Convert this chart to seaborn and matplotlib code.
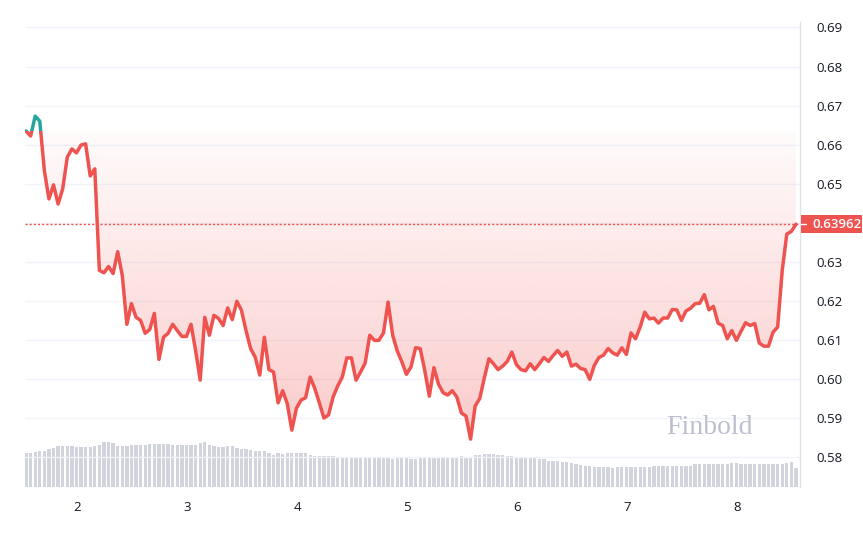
import numpy as np
import pandas as pd
import matplotlib
matplotlib.use("Agg")
import matplotlib.pyplot as plt
import matplotlib.transforms as mtransforms
from matplotlib.path import Path
from matplotlib.patches import Rectangle
from matplotlib.lines import Line2D
from matplotlib.colors import to_rgb
import seaborn as sns

# hourly closes
price = [
    0.6635, 0.6622, 0.6673, 0.6660, 0.6533, 0.6461, 0.6497, 0.6448, 0.6487, 0.6568,
    0.6589, 0.6579, 0.6599, 0.6602, 0.6520, 0.6538, 0.6278, 0.6272, 0.6288, 0.6270,
    0.6326, 0.6265, 0.6140, 0.6193, 0.6158, 0.6150, 0.6117, 0.6127, 0.6168, 0.6050,
    0.6107, 0.6117, 0.6140, 0.6124, 0.6109, 0.6109, 0.6140, 0.6073, 0.5997, 0.6158,
    0.6112, 0.6163, 0.6155, 0.6137, 0.6182, 0.6152, 0.6199, 0.6176, 0.6124, 0.6078,
    0.6056, 0.6010, 0.6107, 0.6024, 0.6018, 0.5939, 0.5970, 0.5937, 0.5869, 0.5925,
    0.5946, 0.5952, 0.6005, 0.5976, 0.5939, 0.5900, 0.5908, 0.5954, 0.5982, 0.6005,
    0.6054, 0.6054, 0.5997, 0.6018, 0.6041, 0.6112, 0.6099, 0.6099, 0.6118, 0.6197,
    0.6112, 0.6072, 0.6044, 0.6012, 0.6031, 0.6080, 0.6078, 0.6022, 0.5956, 0.6029,
    0.5987, 0.5965, 0.5959, 0.5970, 0.5954, 0.5913, 0.5905, 0.5846, 0.5931, 0.5950,
    0.6003, 0.6052, 0.6039, 0.6024, 0.6033, 0.6045, 0.6069, 0.6037, 0.6024, 0.6021,
    0.6039, 0.6024, 0.6039, 0.6055, 0.6045, 0.6060, 0.6073, 0.6058, 0.6069, 0.6033,
    0.6038, 0.6027, 0.6024, 0.5999, 0.6035, 0.6055, 0.6061, 0.6078, 0.6067, 0.6061,
    0.6080, 0.6063, 0.6118, 0.6103, 0.6133, 0.6171, 0.6154, 0.6156, 0.6143, 0.6156,
    0.6156, 0.6178, 0.6177, 0.6150, 0.6174, 0.6181, 0.6193, 0.6194, 0.6216, 0.6177,
    0.6186, 0.6143, 0.6137, 0.6103, 0.6124, 0.6099, 0.6122, 0.6144, 0.6137, 0.6142,
    0.6092, 0.6084, 0.6084, 0.6120, 0.6133, 0.6278, 0.6371, 0.6378, 0.63962,
]

# hourly volume (relative units)
volume = [
    34.0, 34.0, 35.0, 35.7, 35.7, 38.3, 38.7, 40.7, 40.7, 40.7,
    40.7, 39.7, 39.7, 39.7, 39.7, 40.7, 42.3, 44.7, 44.7, 43.7,
    40.7, 40.7, 40.7, 41.7, 42.3, 42.3, 42.3, 43.3, 42.7, 42.7,
    42.7, 43.3, 41.7, 42.3, 41.7, 42.3, 42.3, 42.3, 44.0, 45.3,
    41.7, 40.7, 39.7, 39.7, 40.7, 40.7, 39.3, 38.3, 38.3, 36.7,
    36.3, 35.7, 35.7, 34.3, 32.3, 33.7, 32.7, 33.7, 33.7, 33.7,
    33.7, 33.7, 31.7, 30.7, 30.7, 30.7, 30.7, 30.7, 29.4, 29.4,
    29.4, 29.4, 29.4, 29.4, 29.4, 29.4, 29.4, 29.4, 29.4, 28.7,
    27.7, 28.7, 28.7, 28.7, 27.7, 27.7, 28.7, 28.7, 29.4, 29.4,
    29.4, 29.0, 29.0, 29.4, 29.4, 30.7, 30.0, 29.4, 31.7, 32.3,
    33.4, 32.7, 32.7, 32.0, 32.0, 31.4, 30.7, 30.0, 30.0, 30.0,
    30.0, 29.4, 28.0, 28.0, 26.0, 26.0, 26.0, 25.4, 24.7, 24.0,
    23.4, 21.7, 20.7, 20.7, 20.4, 19.7, 19.7, 19.7, 19.4, 19.7,
    19.7, 19.7, 20.0, 20.0, 20.0, 20.4, 20.4, 20.7, 20.7, 20.7,
    20.7, 21.4, 21.4, 21.4, 21.4, 21.4, 22.7, 22.7, 22.7, 23.4,
    23.4, 23.4, 23.4, 23.4, 24.0, 24.4, 22.7, 22.7, 22.7, 22.7,
    22.7, 22.7, 22.7, 22.7, 22.7, 22.7, 24.3, 24.7, 19.4,
]

start_day = 1.5364          # day-of-month of the first sample
day_ticks = [2, 3, 4, 5, 6, 7, 8]
price_ticks = [0.58, 0.59, 0.60, 0.61, 0.62, 0.63, 0.64, 0.65, 0.66, 0.67, 0.68, 0.69]
last_price = 0.63962
watermark = "Finbold"

RED = "#ef5350"
GREEN = "#26a69a"
VOL = "#d1d4dc"
GRID = "#f0f3fa"
TEXT = "#131722"

df = pd.DataFrame({"day": start_day + np.arange(len(price)) / 24,
                   "price": price, "volume": volume})
baseline = price[0]

sns.set_style("white")
plt.rcParams["font.family"] = ["Open Sans", "DejaVu Sans"]

W, H = 863, 539
fig = plt.figure(figsize=(W / 100, H / 100), dpi=100)
rect = [25 / W, 52 / H, 775 / W, 465 / H]
xlim = (1.527, 8.573)
ylim = (0.57235, 0.69140)

# volume pane underneath
ax_vol = fig.add_axes(rect)
ax_vol.bar(df["day"], df["volume"], width=0.72 / 24, color=VOL, linewidth=0)
ax_vol.set_xlim(xlim)
ax_vol.set_ylim(0, 465)
ax_vol.axis("off")

# price pane on top
ax = fig.add_axes(rect, facecolor="none")

# gradient fill between baseline and price
x = df["day"].to_numpy()
y_low = np.minimum(df["price"].to_numpy(), baseline)
verts = np.vstack([np.column_stack([x, y_low]), [[x[-1], baseline], [x[0], baseline], [x[0], y_low[0]]]])
clip = Path(verts, closed=True)
grad = np.zeros((256, 1, 4))
grad[..., :3] = to_rgb(RED)
grad[..., 3] = np.linspace(0.30, 0.02, 256)[:, None]
img = ax.imshow(grad, aspect="auto", origin="lower",
                extent=[x[0], x[-1], min(price), baseline], zorder=1)
img.set_clip_path(clip, ax.transData)

# baseline-coloured line: red below, green above
sns.lineplot(data=df, x="day", y="price", ax=ax, color=RED, linewidth=2.5, zorder=3)
red_line = ax.lines[-1]
sns.lineplot(data=df, x="day", y="price", ax=ax, color=GREEN, linewidth=2.5, zorder=3)
green_line = ax.lines[-1]
red_line.set_clip_path(Rectangle((xlim[0], ylim[0]), xlim[1] - xlim[0], baseline - ylim[0],
                                 transform=ax.transData))
green_line.set_clip_path(Rectangle((xlim[0], baseline), xlim[1] - xlim[0], ylim[1] - baseline,
                                   transform=ax.transData))

ax.axhline(last_price, color=RED, linewidth=1, linestyle=(0, (1.5, 1.5)), zorder=2)

ax.set_xlim(xlim)
ax.set_ylim(ylim)
ax.set_xlabel("")
ax.set_ylabel("")

ax.set_yticks(price_ticks)
# the 0.64 label sits under the last-price tag, so it is left blank
ax.set_yticklabels(["" if abs(v - 0.64) < 1e-9 else f"{v:.2f}" for v in price_ticks])
ax.yaxis.tick_right()
ax.set_xticks(day_ticks)
ax.set_xticklabels([str(d) for d in day_ticks])
ax.tick_params(axis="y", length=0, pad=12, labelsize=9.5, labelcolor=TEXT)
ax.tick_params(axis="x", length=0, pad=10, labelsize=9.5, labelcolor=TEXT)
ax.grid(axis="y", color=GRID, linewidth=1)
ax.grid(axis="x", visible=False)
for side in ["top", "left", "bottom"]:
    ax.spines[side].set_visible(False)
ax.spines["right"].set_color("#e0e3eb")
ax.spines["right"].set_linewidth(1)

# last price tag on the axis
tag = mtransforms.blended_transform_factory(fig.transFigure, ax.transData)
half = 9 * (ylim[1] - ylim[0]) / 466
ax.add_patch(Rectangle((801 / W, last_price - half), 61 / W, 2 * half, transform=tag,
                       facecolor=RED, edgecolor="none", clip_on=False, zorder=5))
ax.add_line(Line2D([801 / W, 806 / W], [last_price, last_price], transform=tag,
                   color="white", linewidth=1, clip_on=False, zorder=6))
ax.text(812 / W, last_price, f"{last_price:.5f}", transform=tag, ha="left", va="center",
        color="white", fontsize=9.5, fontweight="semibold", clip_on=False, zorder=6)

fig.text(709 / W, 1 - 428 / H, watermark, family="Liberation Serif", fontsize=20,
         color="#bcbfd0", ha="center", va="center")

fig.savefig("out.png", dpi=100)
